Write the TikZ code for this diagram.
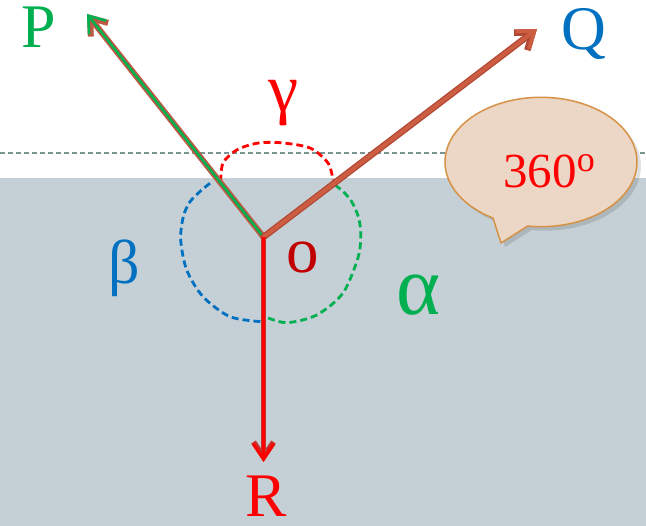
\documentclass[tikz,border=0pt]{standalone}
\usepackage{fontspec}
\setmainfont{Liberation Serif}
\usetikzlibrary{arrows.meta}
\definecolor{bggray}{RGB}{197,208,214}
\definecolor{dashgray}{RGB}{122,148,148}
\definecolor{pgreen}{RGB}{0,176,80}
\definecolor{qblue}{RGB}{0,112,192}
\definecolor{darkred}{RGB}{192,0,0}
\definecolor{qbrown}{RGB}{204,92,66}
\definecolor{qbrownd}{RGB}{176,72,52}
\definecolor{pout}{RGB}{190,88,66}
\definecolor{rout}{RGB}{200,50,45}
\definecolor{calfill}{RGB}{236,214,198}
\definecolor{caldraw}{RGB}{214,146,70}
\tikzset{
  bigtxt/.style={font=\fontsize{62}{62}\selectfont, inner sep=0pt},
  arcdash/.style={line width=2.8pt, dash pattern=on 7pt off 4pt},
  barb/.style={-{Straight Barb[length=15pt,width=22pt]}},
  rbarb/.style={-{Straight Barb[length=15pt,width=20pt]}},
  callout/.style={draw=caldraw, fill=calfill, line width=1.5pt, line join=round}
}
\begin{document}
\begin{tikzpicture}[x=1pt,y=-1pt]
\useasboundingbox (0,0) rectangle (646,526);
\fill[white] (0,0) rectangle (646,526);
\fill[bggray] (0,178) rectangle (646,526);
\draw[dashgray, line width=1.6pt, dash pattern=on 5pt off 3pt] (0,153) -- (646,153);

% dashed arcs
\draw[red, arcdash] plot[smooth] coordinates {(220.7,181.7) (223,163) (236.7,150) (256.7,143.3) (280,142.7) (310,148) (328,163) (333,180)};
\draw[qblue, arcdash] plot[smooth] coordinates {(210,183.3) (201.7,190) (190,201.7) (183.3,216.7) (180.7,240) (186.7,270) (203,296.7) (230,316.7) (261.7,321.7)};
\draw[pgreen, arcdash] plot[smooth] coordinates {(335,185) (343.3,191.7) (351.7,201.7) (358.3,216.7) (360.7,233.3) (358.3,256.7) (343,293) (316.7,315) (286.7,322.7) (265,316.7)};

% points
\coordinate (O) at (263.5,237);
\coordinate (Ptip) at (87,14);
\coordinate (Qtip) at (537,29);
\coordinate (Rtip) at (263.5,462);

% arrows
\draw[pout, line width=6pt, line cap=round, barb] (O) -- (Ptip);
\draw[pgreen, line width=2.6pt, line cap=round, barb] (O) -- (Ptip);
\draw[qbrownd, line width=6.5pt, line cap=round, barb] (O) -- (Qtip);
\draw[qbrown, line width=4pt, line cap=round, barb] (O) -- (Qtip);
\draw[rout, line width=5.5pt, rbarb] (O) -- (Rtip);
\draw[red, line width=3.2pt, rbarb] (O) -- (Rtip);

% callout shadow and callout
\fill[black, opacity=0.12] (531.6,230.1) -- (505,247) -- (497,222)
  -- plot[domain=120:458, samples=120] ({545+96*cos(\x)}, {166+64.7*sin(\x)}) -- cycle;
\draw[callout] (527.6,226.1) -- (501,243) -- (493,218)
  -- plot[domain=120:458, samples=120] ({541+96*cos(\x)}, {162+64.7*sin(\x)}) -- cycle;

% labels
\node[bigtxt, text=pgreen, anchor=base] (P) at (39,48) {P};
\node[bigtxt, text=qblue, anchor=base] (Q) at (584,50) {Q};
\node[bigtxt, text=red, anchor=base] (R) at (266.5,517) {R};
\node[bigtxt, text=red, font=\fontsize{68}{68}\selectfont] (gamma) at (283.5,103) {γ};
\node[bigtxt, text=qblue] (beta) at (124.5,268.5) {β};
\node[bigtxt, text=pgreen, font=\fontsize{84}{84}\selectfont] (alpha) at (419,295) {α};
\node[bigtxt, text=darkred, font=\fontsize{65}{65}\selectfont] (o) at (303,257.5) {o};
\node[inner sep=0pt, text=red, anchor=base, font=\fontsize{49}{49}\selectfont] (deg) at (549,188) {360\raisebox{16.5pt}{\fontsize{36}{36}\selectfont o}};
\end{tikzpicture}
\end{document}
